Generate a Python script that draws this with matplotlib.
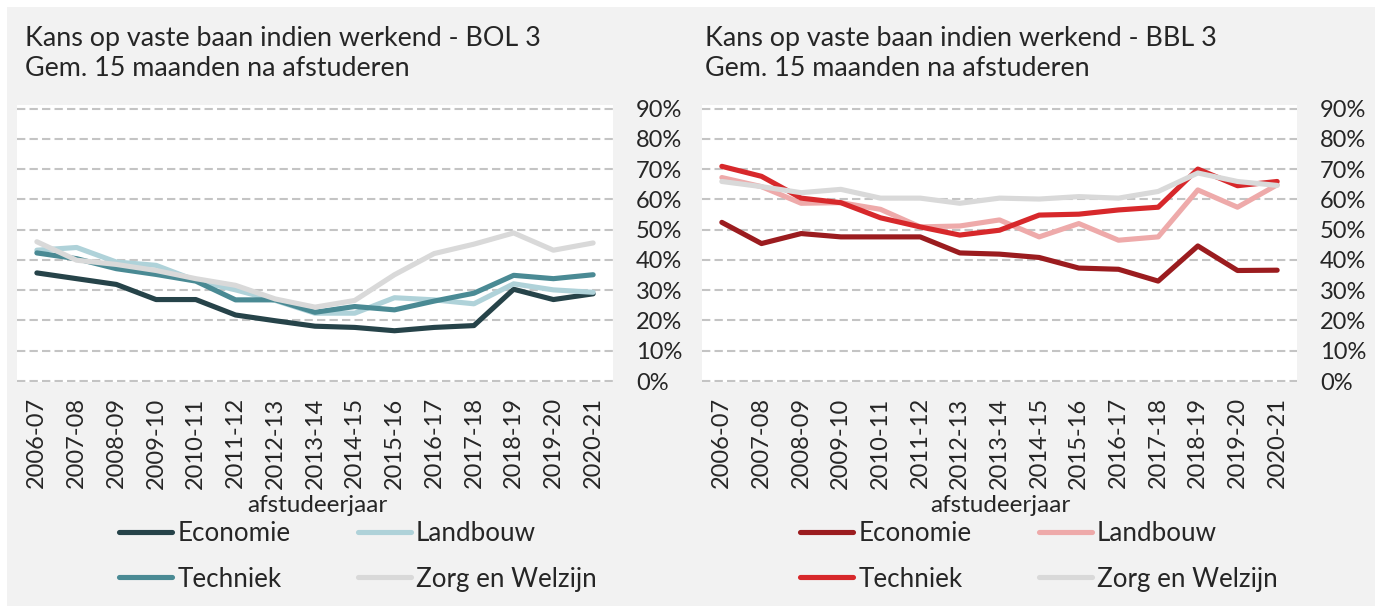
import matplotlib
matplotlib.use("Agg")
import matplotlib.pyplot as plt
from matplotlib.patches import Rectangle
from matplotlib.ticker import PercentFormatter

plt.rcParams["font.family"] = ["Lato", "DejaVu Sans"]

W, H = 1375, 606

jaren = ["2006-07", "2007-08", "2008-09", "2009-10", "2010-11", "2011-12", "2012-13",
         "2013-14", "2014-15", "2015-16", "2016-17", "2017-18", "2018-19", "2019-20", "2020-21"]
sectoren = ["Economie", "Landbouw", "Techniek", "Zorg en Welzijn"]

# BOL 3
bol_economie = [0.357, 0.338, 0.319, 0.269, 0.269, 0.218, 0.199, 0.181, 0.177, 0.166, 0.177, 0.183, 0.303, 0.269, 0.288]
bol_landbouw = [0.432, 0.441, 0.393, 0.382, 0.332, 0.301, 0.266, 0.224, 0.224, 0.275, 0.268, 0.255, 0.321, 0.301, 0.293]
bol_techniek = [0.423, 0.404, 0.371, 0.352, 0.330, 0.268, 0.268, 0.227, 0.246, 0.235, 0.264, 0.290, 0.349, 0.338, 0.351]
bol_zorg = [0.460, 0.399, 0.385, 0.365, 0.338, 0.316, 0.271, 0.244, 0.266, 0.351, 0.421, 0.452, 0.489, 0.432, 0.456]

# BBL 3
bbl_economie = [0.524, 0.454, 0.487, 0.476, 0.476, 0.476, 0.423, 0.419, 0.408, 0.373, 0.369, 0.330, 0.446, 0.365, 0.366]
bbl_landbouw = [0.672, 0.642, 0.587, 0.589, 0.567, 0.509, 0.512, 0.532, 0.476, 0.520, 0.465, 0.476, 0.631, 0.574, 0.648]
bbl_techniek = [0.709, 0.676, 0.604, 0.589, 0.539, 0.509, 0.482, 0.498, 0.548, 0.551, 0.565, 0.574, 0.700, 0.645, 0.659]
bbl_zorg = [0.659, 0.642, 0.622, 0.633, 0.604, 0.604, 0.587, 0.604, 0.601, 0.609, 0.604, 0.626, 0.687, 0.659, 0.646]

kleuren_bol = ["#264349", "#afd2d9", "#4a8a94", "#d9d9d9"]
kleuren_bbl = ["#9b1c1f", "#eeaaaa", "#d7282b", "#d9d9d9"]

TXT = "#262626"
FS = 17        # ticks
FS_TITEL = 19.4
FS_LEG = 18.7


def box(x0, y0, x1, y1):
    # pixel box (top-left origin) -> figure fraction rect
    return [x0 / W, 1 - y1 / H, (x1 - x0) / W, (y1 - y0) / H]


fig = plt.figure(figsize=(W / 100, H / 100), dpi=100, facecolor="white")
fig.patches.append(Rectangle((7 / W, 0), 1, 1 - 7 / H, transform=fig.transFigure,
                             facecolor="#f2f2f2", edgecolor="none", zorder=-10))


def paneel(rect, reeksen, kleuren, titel, tx, xlab_x, leg_x):
    ax = fig.add_axes(rect)
    ax.set_facecolor("white")
    x = range(len(jaren))
    for naam, waarden, kleur in zip(sectoren, reeksen, kleuren):
        ax.plot(x, waarden, color=kleur, lw=3.7, label=naam,
                solid_joinstyle="round", solid_capstyle="round")
    ax.set_xlim(-0.5, len(jaren) - 0.5)
    ax.set_ylim(-0.0033, 0.9116)
    ax.set_yticks([i / 10 for i in range(10)])
    ax.yaxis.set_major_formatter(PercentFormatter(1.0, decimals=0))
    ax.yaxis.tick_right()
    ax.set_xticks(list(x))
    ax.set_xticklabels(jaren, rotation=90)
    ax.tick_params(axis="y", length=0, pad=16.5, labelsize=FS, labelcolor=TXT)
    ax.tick_params(axis="x", length=0, pad=11, labelsize=FS, labelcolor=TXT)
    for lbl in ax.get_yticklabels():
        lbl.set_horizontalalignment("left")
    ax.grid(axis="y", color="#c4c4c4", lw=1.5, linestyle=(0, (4, 2)))
    ax.set_axisbelow(True)
    for s in ax.spines.values():
        s.set_visible(False)

    regels = titel.split("\n")
    fig.text(tx / W, 1 - 46 / H, regels[0], fontsize=FS_TITEL, color=TXT, va="baseline")
    fig.text(tx / W, 1 - 76 / H, regels[1], fontsize=FS_TITEL, color=TXT, va="baseline")
    fig.text(xlab_x / W, 1 - 506 / H, "afstudeerjaar", fontsize=17.5, color=TXT,
             ha="center", va="center")

    h, l = ax.get_legend_handles_labels()
    volgorde = [0, 2, 1, 3]
    leg = fig.legend([h[i] for i in volgorde], [l[i] for i in volgorde], ncol=2,
                     loc="upper left", bbox_to_anchor=(leg_x / W, 1 - 521 / H),
                     bbox_transform=fig.transFigure, frameon=False, fontsize=FS_LEG,
                     handlelength=2.04, handletextpad=0.2, columnspacing=2.6,
                     labelspacing=0.79, borderpad=0, borderaxespad=0)
    for t in leg.get_texts():
        t.set_color(TXT)
    return ax


paneel(box(17, 105, 613, 382), [bol_economie, bol_landbouw, bol_techniek, bol_zorg],
       kleuren_bol, "Kans op vaste baan indien werkend - BOL 3\nGem. 15 maanden na afstuderen",
       25, 317, 119)
paneel(box(702, 105, 1297, 382), [bbl_economie, bbl_landbouw, bbl_techniek, bbl_zorg],
       kleuren_bbl, "Kans op vaste baan indien werkend - BBL 3\nGem. 15 maanden na afstuderen",
       705, 1000, 800)

fig.savefig("out.png", dpi=100, facecolor="white")
